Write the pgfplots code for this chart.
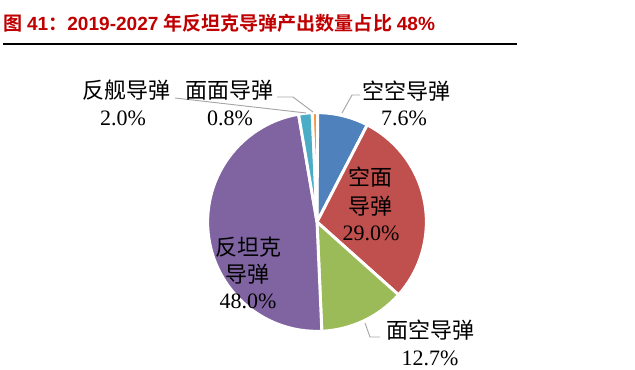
\documentclass[border=0pt]{standalone}
\usepackage{pgfplots}
\usepackage{pgfplotstable}
\pgfplotsset{compat=1.18}
\usepackage{fontspec}
\setmainfont{Liberation Serif}
\newfontfamily\cjk{Noto Sans CJK SC}[BoldFont={Noto Sans CJK SC Bold}]
\newfontfamily\latsans{Liberation Sans}
\definecolor{c1}{HTML}{4F81BD}
\definecolor{c2}{HTML}{C0504D}
\definecolor{c3}{HTML}{9BBB59}
\definecolor{c4}{HTML}{8064A2}
\definecolor{c5}{HTML}{4BACC6}
\definecolor{c6}{HTML}{F79646}
\definecolor{titlered}{RGB}{192,0,0}
\pgfplotstableread{
name value col
kongkong 7.6 c1
kongmian 29.0 c2
miankong 12.7 c3
fantanke 48.0 c4
fanjian 2.0 c5
mianmian 0.8 c6
}\piedata
\begin{document}
\begin{tikzpicture}
\begin{axis}[
  x=0.75pt, y=0.75pt,
  xmin=0, xmax=635, ymin=0, ymax=370,
  scale only axis, hide axis, clip=false,
]
\path (axis cs:0,0) rectangle (axis cs:635,370);
% pie
\pgfmathsetmacro\startang{90}
\pgfplotsforeachungrouped \i in {0,...,5}{%
  \pgfplotstablegetelem{\i}{value}\of\piedata \let\sliceval\pgfplotsretval
  \pgfplotstablegetelem{\i}{col}\of\piedata \let\slicecol\pgfplotsretval
  \pgfmathsetmacro\endang{\startang-3.6*\sliceval}%
  \edef\temp{\noexpand\fill[\slicecol, draw=white, line width=2.2pt, line join=round] (axis cs:317,148) -- ++(\startang:82pt) arc[start angle=\startang, end angle=\endang, radius=82pt] -- cycle;}%
  \temp
  \global\let\startang\endang
}
% leaders
\addplot[gray!70, line width=0.7pt, no marks] coordinates {(342,257) (352,275) (360,275)};
\addplot[gray!70, line width=0.7pt, no marks] coordinates {(277,273) (293,273) (313,258)};
\addplot[gray!70, line width=0.7pt, no marks] coordinates {(175,272) (306,257)};
\addplot[gray!70, line width=0.7pt, no marks] coordinates {(365,47) (370,33) (380,33)};
% title
\node[anchor=west, text=titlered, inner sep=0pt, font=\fontsize{14.3}{16}\selectfont\bfseries] at (axis cs:3,347)
  {{\cjk 图} {\latsans\bfseries 41}{\cjk ：}{\latsans\bfseries 2019-2027} {\cjk 年反坦克导弹产出数量占比} {\latsans\bfseries 48\%}};
\addplot[black, line width=1.2pt, no marks] coordinates {(3,326) (517,326)};
% labels
\tikzset{lab/.style={inner sep=0pt, font=\fontsize{16.5}{18}\selectfont}}
\node[lab] at (axis cs:406,279) {\cjk 空空导弹};
\node[lab] at (axis cs:404,252) {7.6\%};
\node[lab] at (axis cs:229,280) {\cjk 面面导弹};
\node[lab] at (axis cs:230,252) {0.8\%};
\node[lab] at (axis cs:126,280) {\cjk 反舰导弹};
\node[lab] at (axis cs:123,252) {2.0\%};
\node[lab] at (axis cs:370,193) {\cjk 空面};
\node[lab] at (axis cs:370,164) {\cjk 导弹};
\node[lab] at (axis cs:371,137) {29.0\%};
\node[lab] at (axis cs:248,123) {\cjk 反坦克};
\node[lab] at (axis cs:247,96) {\cjk 导弹};
\node[lab] at (axis cs:248,69) {48.0\%};
\node[lab] at (axis cs:430,40) {\cjk 面空导弹};
\node[lab] at (axis cs:430,12) {12.7\%};
\end{axis}
\end{tikzpicture}
\end{document}
